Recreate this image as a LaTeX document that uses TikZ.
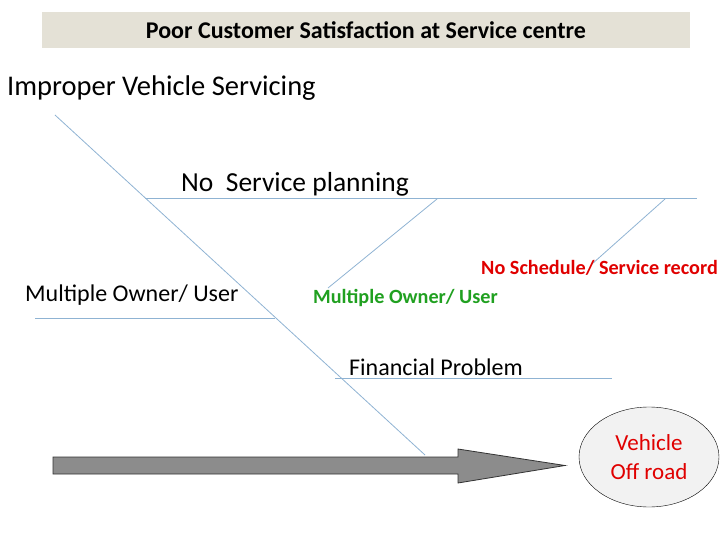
\documentclass[tikz,border=0pt]{standalone}
\usepackage{fontspec}
\setmainfont{Carlito}
\usetikzlibrary{shapes.geometric}
\definecolor{ln}{HTML}{8FB3D3}
\definecolor{tbox}{HTML}{E4E1D6}
\definecolor{rd}{HTML}{E00000}
\definecolor{gr}{HTML}{20A020}
\tikzset{bone/.style={draw=ln,line width=0.8pt},
lbl/.style={inner sep=0pt,anchor=west,font=\fontsize{24}{28}\selectfont}}
\begin{document}
\begin{tikzpicture}[x=1pt,y=-1pt]
\useasboundingbox (0,0) rectangle (720,540);
\node[fill=tbox,minimum width=648pt,minimum height=36pt,inner sep=0pt,font=\fontsize{24}{28}\selectfont\bfseries] (title) at (366,30) {Poor Customer Satisfaction at Service centre};
\node[lbl,font=\fontsize{28.5}{32}\selectfont] (imp) at (7,88) {Improper Vehicle Servicing};
\coordinate (s1) at (55,115); \coordinate (e1) at (425,455);
\draw[bone] (s1) -- (e1);
\node[lbl,font=\fontsize{27.5}{31}\selectfont] (nsp) at (181,184) {No\ \ Service planning};
\coordinate (h1) at (145,198); \coordinate (h2) at (697,198);
\draw[bone] (h1) -- (h2);
\coordinate (d1) at (437,199); \coordinate (d2) at (328,288);
\draw[bone] (d1) -- (d2);
\coordinate (d3) at (665,199); \coordinate (d4) at (592,264);
\draw[bone] (d3) -- (d4);
\node[lbl,font=\fontsize{20.2}{24}\selectfont\bfseries,text=rd] (nsr) at (481,268) {No Schedule/ Service record};
\node[lbl,font=\fontsize{20.2}{24}\selectfont\bfseries,text=gr] (mog) at (313,298) {Multiple Owner/ User};
\node[lbl] (mo) at (25,295) {Multiple Owner/ User};
\coordinate (h3) at (35,318); \coordinate (h4) at (275,318);
\draw[bone] (h3) -- (h4);
\node[lbl] (fp) at (349,367) {Financial Problem};
\coordinate (h5) at (335,378); \coordinate (h6) at (612,378);
\draw[bone] (h5) -- (h6);
\draw[fill=gray!90,draw=gray!40!black,line width=0.8pt] (53,457) -- (458,457) -- (458,449) -- (565,465.5) -- (458,483) -- (458,474) -- (53,474) -- cycle;
\node[ellipse,draw=black,fill=gray!10,minimum width=140pt,minimum height=100pt,align=center,text=rd,font=\fontsize{23}{29}\selectfont] (vor) at (649,457) {Vehicle\\Off road};
\end{tikzpicture}
\end{document}
